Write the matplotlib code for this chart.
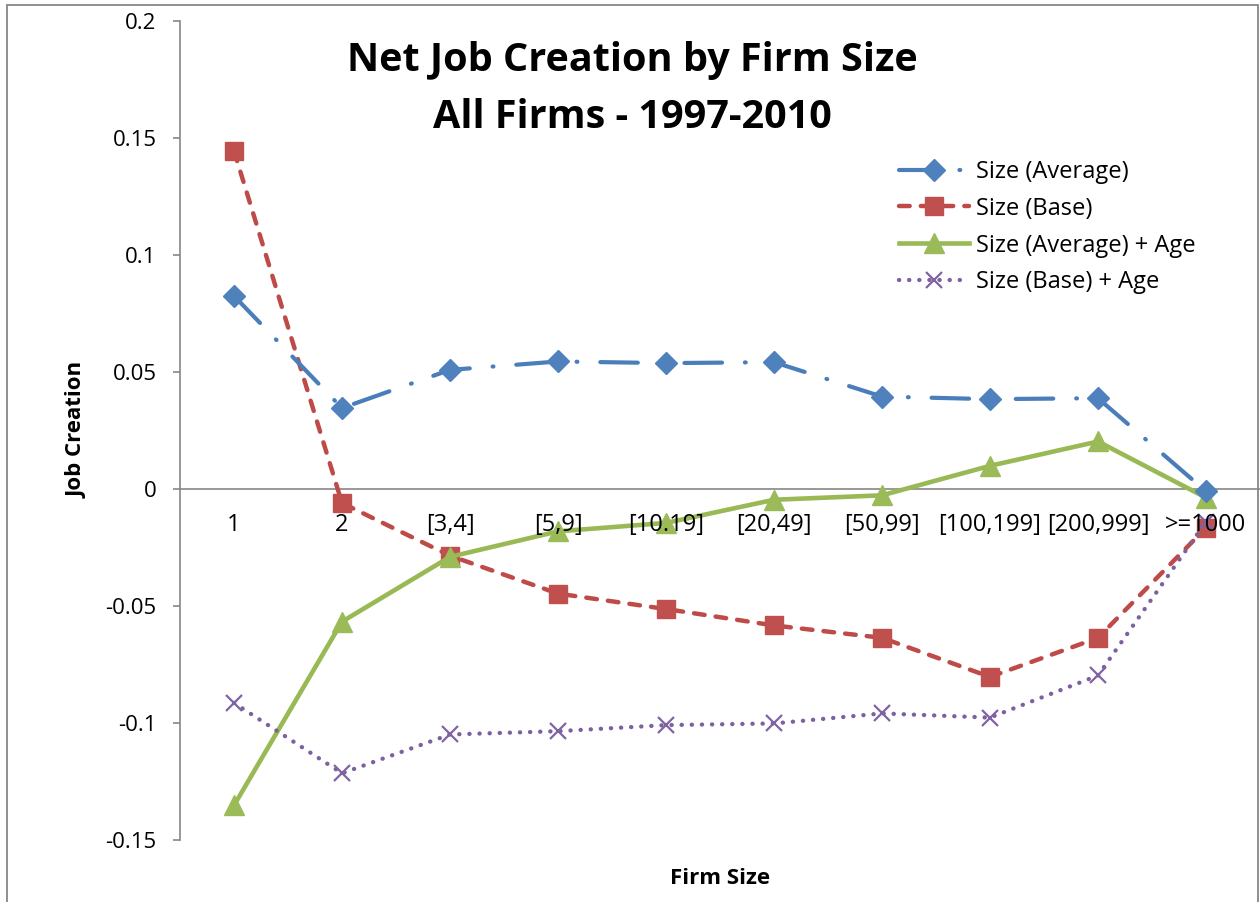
import numpy as np
import matplotlib
matplotlib.use("Agg")
import matplotlib.pyplot as plt
from matplotlib.patches import Rectangle

plt.rcParams['font.family'] = ['Open Sans', 'DejaVu Sans']

categories = ["1", "2", "[3,4]", "[5,9]", "[10.19]", "[20,49]", "[50,99]",
              "[100,199]", "[200,999]", ">=1000"]

size_avg = [0.0825, 0.0346, 0.0509, 0.0545, 0.0538, 0.0542, 0.0395, 0.0384, 0.0388, -0.0010]
size_base = [0.1445, -0.0060, -0.0285, -0.0447, -0.0513, -0.0583, -0.0636, -0.0803, -0.0636, -0.0166]
size_avg_age = [-0.1352, -0.0567, -0.0290, -0.0181, -0.0145, -0.0046, -0.0027, 0.0099, 0.0203, -0.0037]
size_base_age = [-0.0914, -0.1215, -0.1049, -0.1035, -0.1009, -0.1002, -0.0959, -0.0977, -0.0797, -0.0140]

yticks = [-0.15, -0.1, -0.05, 0, 0.05, 0.1, 0.15, 0.2]
ytick_labels = ["-0.15", "-0.1", "-0.05", "0", "0.05", "0.1", "0.15", "0.2"]

W, H = 1260, 902
fig = plt.figure(figsize=(W / 100, H / 100), dpi=100)
ax = fig.add_axes([180 / W, 62 / H, 1080 / W, 819 / H])

x = np.arange(len(categories))
gray = "#868686"

ax.plot(x, size_avg, color="#4A7EBB", lw=3, marker="D", ms=11,
        mfc="#4F81BD", mec="#4F81BD", dashes=(9, 5.5, 0.2, 5.5),
        dash_capstyle="round", label="Size (Average)", zorder=4)
ax.plot(x, size_base, color="#BE4B48", lw=3.2, marker="s", ms=13.5,
        mfc="#C0504D", mec="#C0504D", dashes=(2.4, 2.5),
        dash_capstyle="round", label="Size (Base)", zorder=3)
ax.plot(x, size_avg_age, color="#98B954", lw=3.3, marker="^", ms=14,
        mfc="#9BBB59", mec="#9BBB59", label="Size (Average) + Age", zorder=3)
ax.plot(x, size_base_age, color="#7D60A0", lw=3.1, marker="x", ms=11, mew=1.6,
        mec="#8064A2", dashes=(0.05, 2.3), dash_capstyle="round",
        label="Size (Base) + Age", zorder=3)

ax.set_xlim(-0.5, len(categories) - 0.5)
ax.set_ylim(-0.15, 0.2)
ax.set_yticks(yticks)
ax.set_yticklabels(ytick_labels)
ax.set_xticks(x)
ax.set_xticklabels(categories)

for s in ("top", "right"):
    ax.spines[s].set_visible(False)
ax.spines["bottom"].set_position(("data", 0))
ax.spines["bottom"].set_color(gray)
ax.spines["bottom"].set_linewidth(1.2)
ax.spines["left"].set_color(gray)
ax.spines["left"].set_linewidth(1.2)
ax.spines["bottom"].set_zorder(1)

ax.tick_params(axis="y", direction="out", length=5, width=1.2, color=gray,
               pad=12, labelsize=16)
ax.tick_params(axis="x", length=0, pad=17, labelsize=17)
# category labels sit on top of the series
ax.xaxis.set_zorder(5)

fig.text(632 / W, 1 - 60 / H, "Net Job Creation by Firm Size", ha="center",
         va="center", fontsize=28.5, fontweight="bold")
fig.text(632 / W, 1 - 118 / H, "All Firms - 1997-2010", ha="center",
         va="center", fontsize=28.5, fontweight="bold")
fig.text(77 / W, 1 - 430 / H, "Job Creation", rotation=90, ha="center",
         va="center", fontsize=16, fontweight="bold")
fig.text(720 / W, 1 - 878 / H, "Firm Size", ha="center", va="center",
         fontsize=16, fontweight="bold")

ax.legend(loc="upper left", bbox_to_anchor=(899 / W, 1 - 160 / H),
          bbox_transform=fig.transFigure, frameon=False, fontsize=17,
          handlelength=2.95, handletextpad=0.3, labelspacing=0.54,
          borderpad=0, borderaxespad=0)

fig.add_artist(Rectangle((7 / W, -0.02), 1251 / W, 1.02 - 5 / H,
                         transform=fig.transFigure, fill=False,
                         edgecolor=gray, lw=1.3))

fig.savefig("out.png", dpi=100)
